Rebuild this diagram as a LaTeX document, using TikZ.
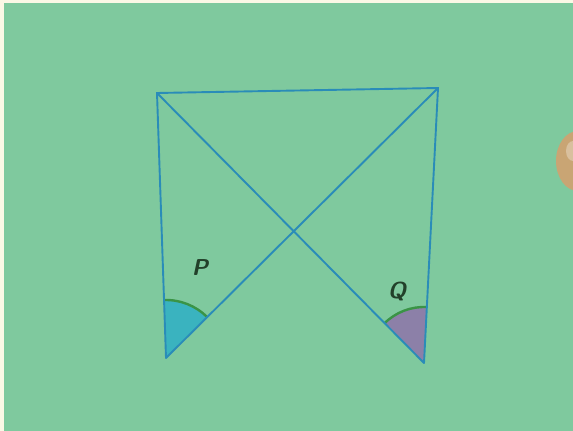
\documentclass[tikz,border=0pt]{standalone}
\usetikzlibrary{positioning, calc}
\definecolor{paper}{HTML}{7FC99E}
\definecolor{cream}{HTML}{FBF8E6}
\definecolor{ink}{HTML}{2A8CB8}
\definecolor{cyanfill}{HTML}{3AB3BF}
\definecolor{mauve}{HTML}{8C80A8}
\definecolor{arcgreen}{HTML}{3A9446}
\definecolor{pencil}{HTML}{22402A}
\definecolor{skin}{HTML}{C9A574}
\begin{document}
\begin{tikzpicture}[x=1pt, y=1pt,
    pen/.style={ink, line width=1.9pt, line cap=round},
    arcline/.style={arcgreen, line width=2.4pt},
    anglelabel/.style={pencil, font=\sffamily\bfseries\itshape\fontsize{23}{23}\selectfont}]
        \useasboundingbox (0,0) rectangle (573,431);
        \fill[cream] (0,0) rectangle (573,431);
        \fill[paper] (4,0) rectangle (573,428);
        % thumb at the edge
        \begin{scope}
          \clip (4,0) rectangle (573,428);
          \fill[skin] (578,270) ellipse [x radius=22, y radius=30];
          \fill[skin!70!white] (573,280) ellipse [x radius=7, y radius=10];
        \end{scope}
        \coordinate (A) at (157,338);
        \coordinate (B) at (438,343);
        \coordinate (P) at (166,73);
        \coordinate (Q) at (424,68);
        % angle sectors
        \fill[cyanfill] (P) -- ++(45:58) arc[start angle=45, end angle=92, radius=58] -- cycle;
        \fill[mauve] (Q) -- ++(87:56) arc[start angle=87, end angle=135, radius=56] -- cycle;
        \draw[arcline] ($(P)+(45:58)$) arc[start angle=45, end angle=92, radius=58];
        \draw[arcline] ($(Q)+(87:56)$) arc[start angle=87, end angle=135, radius=56];
        % figure
        \draw[pen] (P) -- (A) -- (B) -- (Q);
        \draw[pen] (A) -- (Q);
        \draw[pen] (B) -- (P);
        \node[anglelabel] (lblP) at (200,163) {P};
        \node[anglelabel] (lblQ) at (397,140) {Q};
      \end{tikzpicture}
\end{document}
